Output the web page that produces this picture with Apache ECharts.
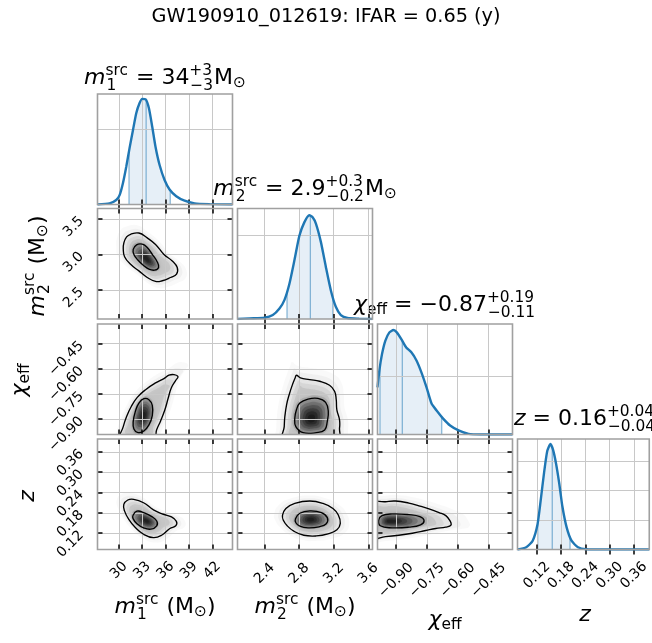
<!DOCTYPE html>
<html><head><meta charset="utf-8"><title>corner</title>
<script src="https://cdn.jsdelivr.net/npm/echarts@6.0.0/dist/echarts.min.js"></script>
<style>html,body{margin:0;padding:0;background:#fff;}#chart{width:652px;height:643px;}</style>
</head><body><div id="chart"></div>
<script>
// ---------------- data ----------------
const mainTitle = 'GW190910_012619: IFAR = 0.65 (y)';
const m1Ticks = [30, 33, 36, 39, 42];
const m2TicksX = [2.4, 2.8, 3.2, 3.6];
const m2TicksY = [2.5, 3.0, 3.5];
const chiTicks = [-0.90, -0.75, -0.60, -0.45];
const zTicks = [0.12, 0.18, 0.24, 0.30, 0.36];

// 1D marginal densities [value, density]
const m1Hist = [[27.25,0],[28.8,0.003],[29.66,0.012],[30.09,0.025],[30.51,0.056],[30.94,0.10],[31.37,0.15],[31.8,0.197],[32.23,0.243],[32.66,0.270],[33.0,0.281],[33.43,0.280],[33.86,0.256],[34.29,0.206],[34.71,0.153],[35.23,0.105],[35.87,0.065],[36.51,0.040],[37.37,0.022],[38.44,0.010],[39.73,0.003],[41.66,0.001],[44.6,0]];
const m2Hist = [[2.088,0],[2.227,0.016],[2.4,0.032],[2.496,0.095],[2.573,0.25],[2.630,0.45],[2.688,0.84],[2.745,1.39],[2.803,1.98],[2.860,2.30],[2.918,2.47],[2.956,2.42],[2.994,2.27],[3.052,1.83],[3.109,1.24],[3.167,0.68],[3.224,0.29],[3.282,0.095],[3.359,0.024],[3.493,0.008],[3.648,0]];
const chiHist = [[-0.991,1.63],[-0.982,2.21],[-0.969,2.78],[-0.953,3.24],[-0.933,3.53],[-0.913,3.61],[-0.897,3.53],[-0.875,3.30],[-0.851,3.01],[-0.826,2.84],[-0.801,2.56],[-0.777,2.15],[-0.752,1.63],[-0.727,1.06],[-0.703,0.83],[-0.670,0.54],[-0.637,0.31],[-0.596,0.14],[-0.547,0.02],[-0.489,0],[-0.333,0]];
const zHist = [[0.072,0],[0.0936,0.75],[0.1096,3.0],[0.1216,8.6],[0.1296,16.9],[0.1376,25.9],[0.1456,33.4],[0.1536,35.8],[0.16,33.8],[0.1672,29.3],[0.1752,22.5],[0.1832,14.5],[0.1936,7.5],[0.2056,3.0],[0.2216,0.75],[0.2416,0.1],[0.2936,0],[0.398,0]];

// credible intervals [lower, median, upper]
const m1Interval = [31.3, 33.5, 36.6];
const m2Interval = [2.66, 2.93, 3.19];
const chiInterval = [-0.979, -0.870, -0.678];
const zInterval = [0.122, 0.158, 0.202];

// 2D contours (outer = 90%, inner = 50%) and density peak
const m1m2Outer = [[30.64,3.163],[30.99,3.247],[31.50,3.284],[32.57,3.302],[33.64,3.233],[34.71,3.140],[35.79,3.0],[36.86,2.907],[37.50,2.814],[37.41,2.721],[36.64,2.674],[35.57,2.628],[34.71,2.619],[33.64,2.674],[32.57,2.767],[31.50,2.860],[30.73,2.967],[30.56,3.079]];
const m1m2Inner = [[31.84,3.07],[32.27,3.135],[33.0,3.144],[33.64,3.098],[34.29,3.0],[34.93,2.893],[35.1,2.814],[34.59,2.777],[33.86,2.791],[33.13,2.847],[32.44,2.921],[31.93,3.0]];
const m1m2Peak = [33.6, 2.93];

const m1chiOuter = [[30.2,-1.02],[30.56,-0.944],[30.99,-0.884],[31.59,-0.824],[32.36,-0.77],[33.43,-0.724],[34.71,-0.684],[35.79,-0.658],[36.43,-0.638],[37.07,-0.634],[37.59,-0.646],[37.29,-0.67],[36.73,-0.714],[36.34,-0.774],[35.91,-0.844],[35.36,-0.91],[34.84,-0.964],[34.5,-1.02]];
const m1chiInner = [[31.84,-0.914],[32.14,-0.85],[32.57,-0.804],[33.21,-0.778],[33.86,-0.784],[34.29,-0.818],[34.29,-0.878],[33.86,-0.934],[33.21,-0.97],[32.44,-0.98],[31.93,-0.958]];
const m1chiPeak = [33.2, -0.88];

const m2chiOuter = [[2.769,-0.638],[2.815,-0.654],[2.922,-0.664],[3.037,-0.674],[3.152,-0.698],[3.21,-0.734],[3.229,-0.784],[3.236,-0.844],[3.267,-0.904],[3.267,-0.954],[3.25,-1.02],[2.62,-1.02],[2.628,-0.944],[2.635,-0.884],[2.655,-0.814],[2.685,-0.754],[2.723,-0.694],[2.754,-0.654]];
const m2chiInner = [[2.769,-0.844],[2.808,-0.804],[2.903,-0.78],[3.018,-0.776],[3.106,-0.80],[3.137,-0.854],[3.125,-0.914],[3.095,-0.964],[2.999,-0.98],[2.846,-0.98],[2.762,-0.944],[2.750,-0.894]];
const m2chiPeak = [2.94, -0.90];

const m1zOuter = [[30.63,0.205],[31.14,0.218],[31.90,0.220],[33.17,0.210],[34.44,0.189],[35.70,0.176],[36.76,0.168],[37.39,0.155],[37.31,0.142],[36.55,0.134],[35.49,0.114],[34.44,0.107],[33.17,0.117],[32.11,0.137],[31.27,0.161],[30.72,0.186]];
const m1zInner = [[31.82,0.173],[32.32,0.185],[33.17,0.181],[34.23,0.169],[34.86,0.156],[34.86,0.142],[34.10,0.132],[33.17,0.136],[32.32,0.148],[31.82,0.163]];
const m1zPeak = [33.6, 0.156];

const m2zOuter = [[2.608,0.173],[2.647,0.193],[2.750,0.208],[2.923,0.215],[3.076,0.208],[3.191,0.193],[3.253,0.174],[3.276,0.149],[3.237,0.130],[3.134,0.118],[3.0,0.112],[2.854,0.114],[2.739,0.126],[2.662,0.142],[2.616,0.159]];
const m2zInner = [[2.758,0.163],[2.808,0.179],[2.923,0.186],[3.057,0.181],[3.126,0.166],[3.114,0.148],[3.03,0.139],[2.904,0.136],[2.808,0.141],[2.762,0.151]];
const m2zPeak = [2.93, 0.16];

const chizOuter = [[-1.02,0.208],[-0.952,0.213],[-0.903,0.215],[-0.838,0.209],[-0.789,0.201],[-0.740,0.192],[-0.691,0.181],[-0.658,0.172],[-0.638,0.157],[-0.633,0.144],[-0.658,0.138],[-0.707,0.134],[-0.756,0.128],[-0.821,0.12],[-0.887,0.114],[-0.952,0.110],[-1.02,0.108]];
const chizInner = [[-0.985,0.159],[-0.969,0.172],[-0.920,0.177],[-0.838,0.175],[-0.784,0.169],[-0.764,0.157],[-0.781,0.145],[-0.838,0.138],[-0.920,0.136],[-0.977,0.142]];
const chizPeak = [-0.935, 0.155];

// titles (math pieces)
const histTitles = [
  [['m','it'],['src','1','ss'],[' = 34','rm'],['+3','\u22123','ss'],['M','rm'],['\u2299','sub']],
  [['m','it'],['src','2','ss'],[' = 2.9','rm'],['+0.3','\u22120.2','ss'],['M','rm'],['\u2299','sub']],
  [['\u03c7','it'],['eff','sub'],[' = \u22120.87','rm'],['+0.19','\u22120.11','ss']],
  [['z','it'],[' = 0.16','rm'],['+0.04','\u22120.04','ss']]
];
const axisTitles = [
  [['m','it'],['src','1','ss'],[' (M','rm'],['\u2299','sub'],[')','rm']],
  [['m','it'],['src','2','ss'],[' (M','rm'],['\u2299','sub'],[')','rm']],
  [['\u03c7','it'],['eff','sub']],
  [['z','it']]
];

// ---------------- configuration ----------------
const P = ['m1','m2','chi','z'];
const range = {m1:[27.25,44.6], m2:[2.088,3.648], chi:[-0.991,-0.333], z:[0.072,0.398]};
const xTickSets = {m1:m1Ticks, m2:m2TicksX, chi:chiTicks, z:zTicks};
const yTickSets = {m1:m1Ticks, m2:m2TicksY, chi:chiTicks, z:zTicks};
const fmt = {
  m1: v => String(v),
  m2: v => v.toFixed(1),
  chi: v => v.toFixed(2).replace('-', '\u2212'),
  z: v => v.toFixed(2)
};
const LABEL_SIZE = 14;
const xMargin = {m1:21, m2:24, chi:31, z:26};
const hists = {m1:m1Hist, m2:m2Hist, chi:chiHist, z:zHist};
const intervals = {m1:m1Interval, m2:m2Interval, chi:chiInterval, z:zInterval};
const histMax = {m1:0.294, m2:2.63, chi:3.82, z:37.5};
const histGrid = {m1:[0.2], m2:[2], chi:[2], z:[10,20,30]};
const pairs = {
  '1,0': [m1m2Outer, m1m2Inner, m1m2Peak],
  '2,0': [m1chiOuter, m1chiInner, m1chiPeak],
  '2,1': [m2chiOuter, m2chiInner, m2chiPeak],
  '3,0': [m1zOuter, m1zInner, m1zPeak],
  '3,1': [m2zOuter, m2zInner, m2zPeak],
  '3,2': [chizOuter, chizInner, chizPeak]
};

const colLeft = [97.5, 237.5, 377.5, 517.5];
const rowTop = [94, 208.5, 324, 439];
const W = 135, H = 110.5;
const FONT = '"DejaVu Sans", sans-serif';
const GRIDC = '#c8c8c8';
const BLUE = '#1f77b4';

function curveAt(curve, v) {
  for (let i = 1; i < curve.length; i++) {
    if (curve[i][0] >= v) {
      const a = curve[i-1], b = curve[i];
      const t = (v - a[0]) / (b[0] - a[0]);
      return a[1] + t * (b[1] - a[1]);
    }
  }
  return 0;
}

function clipOf(cs) { return {type:'rect', shape:{x:cs.x, y:cs.y, width:cs.width, height:cs.height}}; }

function bandRender(curve, iv) {
  return function (params, api) {
    const cs = params.coordSys;
    const pts = [api.coord([curve[0][0], 0])].concat(curve.map(p => api.coord(p))).concat([api.coord([curve[curve.length-1][0], 0])]);
    const x0 = api.coord([iv[0], 0])[0], x1 = api.coord([iv[2], 0])[0];
    const children = [{
      type:'polygon', shape:{points:pts},
      style:{fill:'#e6eff7'},
      clipPath:{type:'rect', shape:{x:x0, y:cs.y, width:x1 - x0, height:cs.height}}
    }];
    iv.forEach(v => {
      const a = api.coord([v, 0]), b = api.coord([v, curveAt(curve, v)]);
      children.push({type:'line', shape:{x1:a[0], y1:a[1], x2:b[0], y2:b[1]}, style:{stroke:'rgba(31,119,180,0.5)', lineWidth:1.3}});
    });
    return {type:'group', children};
  };
}

// shading layers: [which ring, scale about peak, alpha]
const shadeLayers = [
  ['o',1.3,0.025],['o',1.15,0.035],['o',1.0,0.045],['o',0.88,0.055],['o',0.76,0.065],
  ['i',1.12,0.10],['i',0.97,0.13],['i',0.82,0.15],['i',0.67,0.18],['i',0.52,0.20],['i',0.37,0.23],['i',0.22,0.26]
];
function densityRender(outer, inner, peak) {
  return function (params, api) {
    const cs = params.coordSys;
    const c = api.coord(peak);
    const O = outer.map(p => api.coord(p));
    const I = inner.map(p => api.coord(p));
    const sc = (pts, k) => pts.map(q => [c[0] + (q[0]-c[0])*k, c[1] + (q[1]-c[1])*k]);
    return {type:'group', children: shadeLayers.map(L => ({
      type:'polygon', shape:{points:sc(L[0] === 'o' ? O : I, L[1]), smooth:0.5},
      style:{fill:'rgba(0,0,0,' + L[2] + ')', shadowBlur:7, shadowColor:'rgba(0,0,0,' + Math.min(1, L[2]*2.5) + ')'},
      clipPath: clipOf(cs)
    }))};
  };
}

function contourRender(outer, inner) {
  return function (params, api) {
    const cs = params.coordSys;
    return {type:'group', children: [outer, inner].map(ring => ({
      type:'polygon', shape:{points: ring.map(p => api.coord(p)), smooth:0.45},
      style:{fill:null, stroke:'#000', lineWidth:1.35},
      clipPath: clipOf(cs)
    }))};
  };
}

function labelCfg(show, vals, f, margin, extra) {
  return Object.assign({show:show, customValues:vals, formatter:f, rotate:45, margin:margin,
    fontSize:LABEL_SIZE, fontFamily:FONT, color:'#000', hideOverlap:false}, extra || {});
}

const grids = [], xAxes = [], yAxes = [], series = [];
let k = 0;
for (let i = 0; i < 4; i++) {
  for (let j = 0; j <= i; j++) {
    grids.push({left:colLeft[j], top:rowTop[i], width:W, height:H, show:true, borderColor:'#a0a0a0', borderWidth:1.6, backgroundColor:'transparent', z:5});
    const px = P[j], py = P[i];
    const tickStyle = {show:true, inside:true, length:5, lineStyle:{color:'#000', width:1.5}};
    xAxes.push({gridIndex:k, type:'value', position:'bottom', min:range[px][0], max:range[px][1], z:3,
      axisLine:{show:false},
      axisTick:Object.assign({customValues:xTickSets[px]}, tickStyle),
      splitLine:{show:true, lineStyle:{color:GRIDC, width:1}},
      axisLabel:labelCfg(i === 3, xTickSets[px], fmt[px], xMargin[px], {align:'center', verticalAlign:'middle'})
    });
    xAxes.push({gridIndex:k, type:'value', position:'top', min:range[px][0], max:range[px][1], z:3,
      axisLine:{show:false},
      axisTick:Object.assign({customValues:xTickSets[px]}, tickStyle),
      splitLine:{show:false}, axisLabel:{show:false}
    });
    if (i === j) {
      yAxes.push({gridIndex:k, type:'value', position:'left', min:0, max:histMax[px], z:3,
        axisLine:{show:false}, axisTick:{show:false, customValues:histGrid[px]},
        splitLine:{show:true, lineStyle:{color:GRIDC, width:1}}, axisLabel:{show:false}
      });
      yAxes.push({gridIndex:k, type:'value', position:'right', min:0, max:1, show:false});
      series.push({type:'custom', name:'band'+k, coordinateSystem:'cartesian2d', xAxisIndex:2*k, yAxisIndex:2*k, z:1,
        renderItem: bandRender(hists[px], intervals[px]), data:[[intervals[px][1], 0]], silent:true});
      series.push({type:'line', name:'hist'+k, xAxisIndex:2*k, yAxisIndex:2*k, data:hists[px], symbol:'none', smooth:0.2,
        lineStyle:{color:BLUE, width:2.4}, z:4, clip:true, silent:true});
    } else {
      yAxes.push({gridIndex:k, type:'value', position:'left', min:range[py][0], max:range[py][1], z:3,
        axisLine:{show:false},
        axisTick:Object.assign({customValues:yTickSets[py]}, tickStyle),
        splitLine:{show:true, lineStyle:{color:GRIDC, width:1}},
        axisLabel:labelCfg(j === 0, yTickSets[py], fmt[py], 16)
      });
      yAxes.push({gridIndex:k, type:'value', position:'right', min:range[py][0], max:range[py][1], z:3,
        axisLine:{show:false},
        axisTick:Object.assign({customValues:yTickSets[py]}, tickStyle),
        splitLine:{show:false}, axisLabel:{show:false}
      });
      const d = pairs[i + ',' + j];
      series.push({type:'custom', name:'dens'+k, coordinateSystem:'cartesian2d', xAxisIndex:2*k, yAxisIndex:2*k, z:1,
        renderItem: densityRender(d[0], d[1], d[2]), data:[d[2]], silent:true});
      series.push({type:'custom', name:'cont'+k, coordinateSystem:'cartesian2d', xAxisIndex:2*k, yAxisIndex:2*k, z:4,
        renderItem: contourRender(d[0], d[1]), data:[d[2]], silent:true});
    }
    k++;
  }
}

// ---------- math-like text via graphic ----------
const mctx = document.createElement('canvas').getContext('2d');
function tw(t, s, it) { mctx.font = (it ? 'italic ' : '') + s + 'px "DejaVu Sans"'; return mctx.measureText(t).width; }
function layoutMath(pieces, size) {
  const small = size * 0.7; let x = 0; const els = [];
  const add = (t, s, it, base, xx) => els.push({type:'text', x:xx, y:base - 0.346*s,
    style:{text:t, fontSize:s, fontFamily:'DejaVu Sans', fontStyle:it ? 'italic' : 'normal', fill:'#000',
      textAlign:'left', align:'left', textVerticalAlign:'middle', verticalAlign:'middle'}});
  pieces.forEach(p => {
    const kind = p[p.length - 1];
    if (kind === 'ss') {
      add(p[0], small, false, -0.45*size, x);
      add(p[1], small, false, 0.22*size, x + 1);
      x += Math.max(tw(p[0], small), tw(p[1], small) + 1) + 1;
    } else if (kind === 'sub') {
      add(p[0], small, false, 0.12*size, x);
      x += tw(p[0], small);
    } else {
      const it = kind === 'it';
      add(p[0], size, it, 0, x);
      x += tw(p[0], size, it);
    }
  });
  return {els, width:x};
}
function mathGroup(pieces, size, cx, by, rot) {
  const lay = layoutMath(pieces, size);
  lay.els.forEach(e => { e.x -= lay.width / 2; });
  return {type:'group', x:cx, y:by, rotation:rot || 0, children:lay.els, silent:true};
}

const graphics = [];
graphics.push({type:'text', x:326, y:17, silent:true, style:{text:mainTitle, fontSize:19.3, fontFamily:'DejaVu Sans', fill:'#000', textAlign:'center', align:'center', textVerticalAlign:'middle', verticalAlign:'middle'}});
const TS = 22;
const titleBase = [86, 197, 313, 427];
histTitles.forEach((t, n) => graphics.push(mathGroup(t, TS, colLeft[n] + W/2, titleBase[n])));
const xTitleBase = [615, 615, 628, 623];
axisTitles.forEach((t, n) => graphics.push(mathGroup(t, TS, colLeft[n] + W/2, xTitleBase[n])));
const yTitleX = [38 + 7.5, 24 + 3.5, 30 + 6];
const yTitleY = [266, 380, 496];
axisTitles.slice(1).forEach((t, n) => graphics.push(mathGroup(t, TS, yTitleX[n], yTitleY[n], Math.PI/2)));

const chart = echarts.init(document.getElementById('chart'), null, {renderer:'canvas'});
chart.setOption({
  animation:false,
  backgroundColor:'#ffffff',
  grid:grids, xAxis:xAxes, yAxis:yAxes, series:series,
  graphic:{elements:graphics}
});
</script></body></html>
